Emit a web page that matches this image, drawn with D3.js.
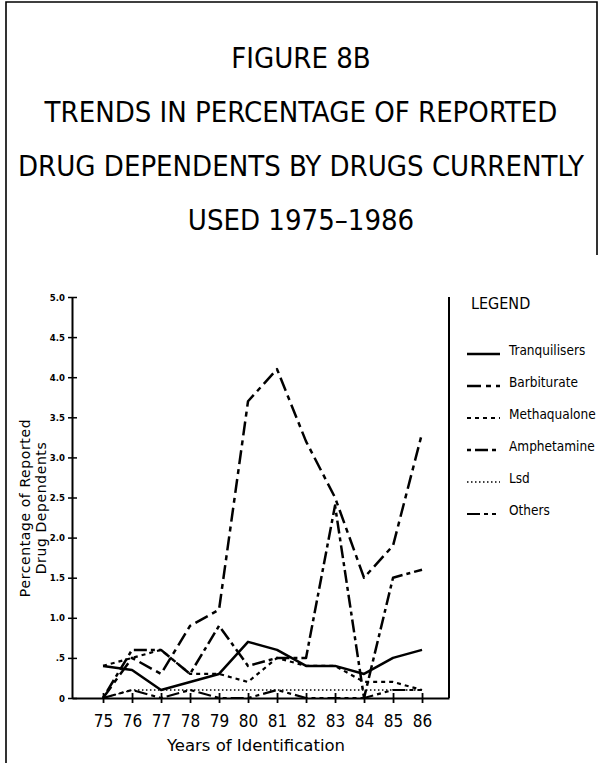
<!DOCTYPE html>
<html>
<head>
<meta charset="utf-8">
<script src="https://cdn.jsdelivr.net/npm/d3@7"></script>
<style>
  body { margin: 0; background: #fff; }
  svg { display: block; }
  text { font-family: "DejaVu Sans Condensed", "Liberation Sans Narrow", sans-serif; fill: #000; }
</style>
</head>
<body>
<svg id="chart"></svg>
<script>
const CHART_WIDTH = 599
const CHART_HEIGHT = 763
const PLOT = { left: 72, right: 449, top: 297, bottom: 698 }

const TITLE_LINES = ["FIGURE 8B", "TRENDS IN PERCENTAGE OF REPORTED",
    "DRUG DEPENDENTS BY DRUGS CURRENTLY", "USED 1975\u20131986"]
const YEARS = [75, 76, 77, 78, 79, 80, 81, 82, 83, 84, 85, 86]
const Y_TICKS = [0, 0.5, 1, 1.5, 2, 2.5, 3, 3.5, 4, 4.5, 5]
const Y_TICK_LABELS = ["0", ".5", "1.0", "1.5", "2.0", "2.5", "3.0", "3.5", "4.0", "4.5", "5.0"]

const DRUGS = ["Tranquilisers", "Barbiturate", "Methaqualone", "Amphetamine", "Lsd", "Others"]
const TRANQUILISERS = [0.4, 0.35, 0.1, 0.2, 0.3, 0.7, 0.6, 0.4, 0.4, 0.3, 0.5, 0.6]
const BARBITURATE   = [0, 0.5, 0.3, 0.9, 1.1, 3.7, 4.1, 3.2, 2.5, 1.5, 1.9, 3.3]
const METHAQUALONE  = [0.4, 0.5, 0.6, 0.3, 0.3, 0.2, 0.5, 0.4, 0.4, 0.2, 0.2, 0.1]
const AMPHETAMINE   = [0, 0.6, 0.6, 0.3, 0.9, 0.4, 0.5, 0.5, 2.4, 0, 1.5, 1.6]
const LSD           = [0, 0.1, 0.1, 0.1, 0.1, 0.1, 0.1, 0.1, 0.1, 0.1, 0.1, 0.1]
const OTHERS        = [0, 0.1, 0, 0.1, 0, 0, 0.1, 0, 0, 0, 0.1, 0.1]
const VALUES = [TRANQUILISERS, BARBITURATE, METHAQUALONE, AMPHETAMINE, LSD, OTHERS]

// pen styles, same order as DRUGS
const STYLES = [
    { dash: null, width: 2.5 },
    { dash: "14,5,5,5", width: 2.5 },
    { dash: "4,4", width: 2.2 },
    { dash: "4,4,13,4", width: 2.5 },
    { dash: "1.5,2.5", width: 1.4 },
    { dash: "13,4,4,4,4,4", width: 2.2 }
]

const svg = d3.select("#chart")
    .attr("width", CHART_WIDTH)
    .attr("height", CHART_HEIGHT)

svg.append("rect").attr("width", CHART_WIDTH).attr("height", CHART_HEIGHT).attr("fill", "#fff")

// outer frame (top + left, bit of the right)
svg.append("path")
    .attr("d", "M6,763 V2 H597 V255")
    .attr("fill", "none").attr("stroke", "#000").attr("stroke-width", 1.6)

// title
svg.append("g").selectAll("text")
    .data(TITLE_LINES)
    .join("text")
    .attr("x", 301)
    .attr("y", (d, i) => 68 + i * 54)
    .attr("text-anchor", "middle")
    .attr("font-size", 29)
    .text(d => d)

const x = d3.scaleLinear()
    .domain([73.93, 86.93])
    .range([PLOT.left, PLOT.right])

const y = d3.scaleLinear()
    .domain([0, 5])
    .range([PLOT.bottom, PLOT.top])

// x axis, ticks crossing the line
const xAxis = svg.append("g")
    .attr("transform", `translate(0,${PLOT.bottom})`)
    .call(d3.axisBottom(x).tickValues(YEARS).tickSize(5).tickPadding(12).tickSizeOuter(0))
xAxis.select(".domain").attr("stroke-width", 2)
xAxis.selectAll(".tick line").attr("y1", -5).attr("stroke-width", 1.8)
xAxis.selectAll(".tick text")
    .attr("font-size", 17)
    .style("font-family", '"DejaVu Sans Condensed", sans-serif')

// y axis
const yAxis = svg.append("g")
    .attr("transform", `translate(${PLOT.left},0)`)
    .call(d3.axisLeft(y).tickValues(Y_TICKS).tickFormat((d, i) => Y_TICK_LABELS[i])
        .tickSize(4).tickPadding(3).tickSizeOuter(0))
yAxis.select(".domain").attr("stroke-width", 2)
yAxis.selectAll(".tick line").attr("x2", 5).attr("x1", -4).attr("stroke-width", 1.5)
yAxis.selectAll(".tick text")
    .attr("font-size", 9.5)
    .attr("font-weight", "bold")
    .style("font-family", '"DejaVu Sans Condensed", sans-serif')

// right edge of the plot
svg.append("line")
    .attr("x1", PLOT.right).attr("x2", PLOT.right)
    .attr("y1", PLOT.top).attr("y2", PLOT.bottom)
    .attr("stroke", "#000").attr("stroke-width", 2)

// axis titles
svg.append("text")
    .attr("x", 256)
    .attr("y", 751)
    .attr("text-anchor", "middle")
    .attr("font-size", 16.5)
    .style("font-family", '"DejaVu Sans", sans-serif')
    .text("Years of Identification")

const yTitle = svg.append("text")
    .attr("transform", `translate(30,508) rotate(-90)`)
    .attr("text-anchor", "middle")
    .attr("font-size", 14)
    .attr("letter-spacing", 0.6)
    .style("font-family", '"DejaVu Sans", sans-serif')
yTitle.append("tspan").attr("x", 0).attr("dy", 0).text("Percentage of Reported")
yTitle.append("tspan").attr("x", 0).attr("dy", 16).text("Drug Dependents")

// series lines
const line = d3.line()
    .x((d, i) => x(YEARS[i]))
    .y(d => y(d))

svg.append("g").selectAll("path")
    .data(VALUES)
    .join("path")
    .attr("d", d => line(d))
    .attr("fill", "none")
    .attr("stroke", "#000")
    .attr("stroke-width", (d, i) => STYLES[i].width)
    .attr("stroke-dasharray", (d, i) => STYLES[i].dash)
    .attr("stroke-linejoin", "round")

// legend
svg.append("text")
    .attr("x", 471).attr("y", 309)
    .attr("font-size", 16)
    .text("LEGEND")

const legend = svg.append("g").selectAll("g")
    .data(DRUGS)
    .join("g")
    .attr("transform", (d, i) => `translate(0,${350 + i * 32})`)

legend.append("line")
    .attr("x1", 467).attr("x2", 500)
    .attr("y1", 4).attr("y2", 4)
    .attr("stroke", "#000")
    .attr("stroke-width", (d, i) => STYLES[i].width)
    .attr("stroke-dasharray", (d, i) => STYLES[i].dash)

legend.append("text")
    .attr("x", 509).attr("y", 5)
    .attr("font-size", 13.5)
    .text(d => d)
</script>
</body>
</html>
